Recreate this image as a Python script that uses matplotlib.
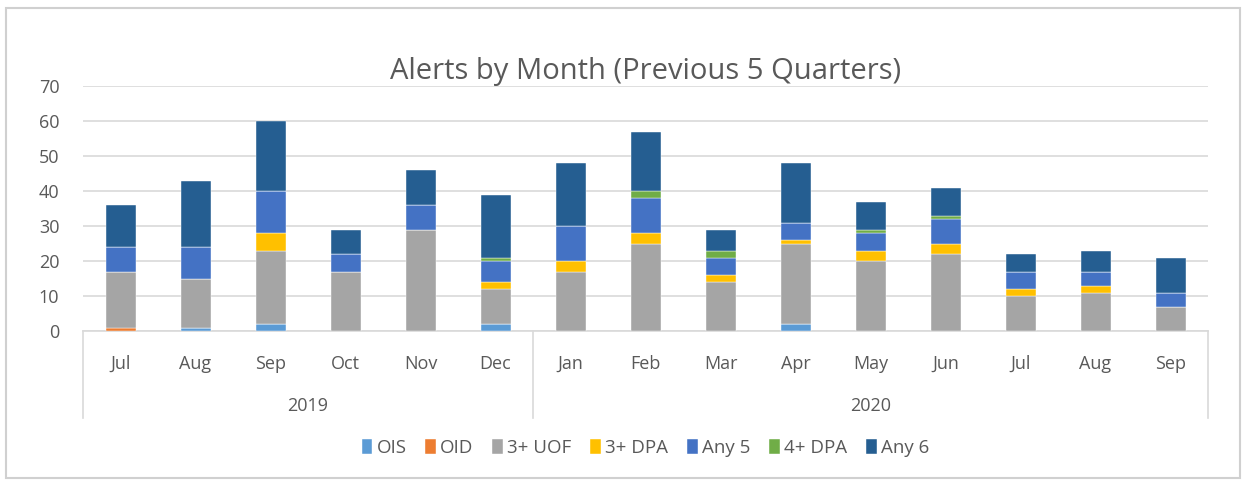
import numpy as np
import matplotlib.pyplot as plt
from matplotlib.patches import Rectangle
from matplotlib.lines import Line2D

months = ['Jul', 'Aug', 'Sep', 'Oct', 'Nov', 'Dec',
          'Jan', 'Feb', 'Mar', 'Apr', 'May', 'Jun', 'Jul', 'Aug', 'Sep']
years = ['2019', '2020']
year_counts = [6, 9]

series_names = ['OIS', 'OID', '3+ UOF', '3+ DPA', 'Any 5', '4+ DPA', 'Any 6']
ois = [0, 1, 2, 0, 0, 2, 0, 0, 0, 2, 0, 0, 0, 0, 0]
oid = [1, 0, 0, 0, 0, 0, 0, 0, 0, 0, 0, 0, 0, 0, 0]
uof = [16, 14, 21, 17, 29, 10, 17, 25, 14, 23, 20, 22, 10, 11, 7]
dpa3 = [0, 0, 5, 0, 0, 2, 3, 3, 2, 1, 3, 3, 2, 2, 0]
any5 = [7, 9, 12, 5, 7, 6, 10, 10, 5, 5, 5, 7, 5, 4, 4]
dpa4 = [0, 0, 0, 0, 0, 1, 0, 2, 2, 0, 1, 1, 0, 0, 0]
any6 = [12, 19, 20, 7, 10, 18, 18, 17, 6, 17, 8, 8, 5, 6, 10]

colors = ['#5B9BD5', '#ED7D31', '#A5A5A5', '#FFC000', '#4472C4', '#70AD47', '#255E91']

plt.rcParams['font.family'] = ['Open Sans', 'DejaVu Sans']

fig = plt.figure(figsize=(12.49, 4.84), dpi=100)
fig.patch.set_facecolor('white')
# chart border
fig.patches.append(Rectangle((6 / 1249, 6 / 484), 1234 / 1249, 470 / 484,
                             transform=fig.transFigure, fill=False,
                             edgecolor='#d0d0d0', linewidth=1.5))

ax = fig.add_axes([83 / 1249, 1 - 331 / 484, 1125 / 1249, 245 / 484])

x = np.arange(len(months))
bottom = np.zeros(len(months))
for name, vals, c in zip(series_names, [ois, oid, uof, dpa3, any5, dpa4, any6], colors):
    ax.bar(x, vals, 0.4, bottom=bottom, color=c, label=name,
           edgecolor='white', linewidth=0.3, zorder=3)
    bottom += np.array(vals)

ax.set_xlim(-0.5, len(months) - 0.5)
ax.set_ylim(0, 70)
ax.set_yticks(range(0, 71, 10))
ax.grid(axis='y', color='#d9d9d9', linewidth=1.2, zorder=0)
for s in ['top', 'right', 'left']:
    ax.spines[s].set_visible(False)
ax.spines['bottom'].set_color('#d9d9d9')
ax.spines['bottom'].set_linewidth(1.2)
ax.tick_params(axis='y', length=0, labelsize=13, labelcolor='#595959', pad=17)
ax.tick_params(axis='x', length=0, labelsize=13, labelcolor='#595959', pad=17)
ax.set_xticks(x)
ax.set_xticklabels(months)

# year level of the category axis
trans = ax.get_xaxis_transform()
sep_bottom = -(418 - 331) / 245
edges = np.concatenate([[0], np.cumsum(year_counts)]) - 0.5
for e in edges:
    ax.add_line(Line2D([e, e], [0, sep_bottom], transform=trans, color='#d9d9d9',
                       linewidth=1.2, clip_on=False))
for yr, a, b in zip(years, edges[:-1], edges[1:]):
    ax.text((a + b) / 2, -(406 - 331) / 245, yr, transform=trans, ha='center',
            va='center', fontsize=13, color='#595959')

ax.set_title('Alerts by Month (Previous 5 Quarters)', fontsize=21, color='#595959', pad=2)

ax.legend(loc='center', bbox_to_anchor=(0.5, -(448 - 331) / 245), ncol=7, frameon=False,
          fontsize=13.5, labelcolor='#595959', handlelength=0.55, handleheight=0.9,
          handletextpad=0.25, columnspacing=1.0)

fig.savefig('out.png', dpi=100)
